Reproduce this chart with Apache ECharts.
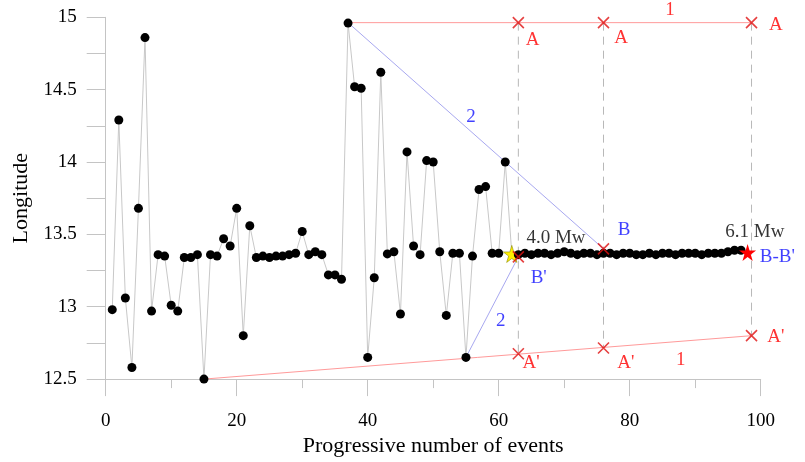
<!DOCTYPE html>
<html><head><meta charset="utf-8">
<script src="https://cdn.jsdelivr.net/npm/echarts@6/dist/echarts.min.js"></script>
<style>html,body{margin:0;padding:0;background:#fff}#c{width:805px;height:462px}</style>
</head><body><div id="c"></div>
<script>
// Longitude of events 1..98 (index+1 = progressive number)
const longitude = [
 12.98,14.29,13.06,12.58,13.68,14.86,12.97,13.36,13.35,13.01,
 12.97,13.34,13.34,13.36,12.50,13.36,13.35,13.47,13.42,13.68,
 12.80,13.56,13.34,13.35,13.34,13.35,13.35,13.36,13.37,13.52,
 13.36,13.38,13.36,13.22,13.22,13.19,14.96,14.52,14.51,12.65,
 13.20,14.62,13.365,13.38,12.95,14.07,13.42,13.36,14.01,14.00,
 13.38,12.94,13.37,13.37,12.65,13.35,13.81,13.83,13.37,13.37,
 14.00,13.365,13.36,13.37,13.36,13.37,13.37,13.36,13.37,13.38,
 13.37,13.36,13.37,13.37,13.36,13.37,13.37,13.36,13.37,13.37,
 13.36,13.36,13.37,13.36,13.37,13.37,13.36,13.37,13.37,13.37,
 13.36,13.37,13.37,13.37,13.38,13.39,13.39,13.375
];
const yellowStarEvent = 62;   // 4.0 Mw
const redStarEvent = 98;      // 6.1 Mw

// annotation geometry (data units)
const lineA  = [[37,14.963],[98.6,14.963]];
const lineA2 = [[15,12.50],[98.6,12.80]];
const lineB  = [[37,14.963],[76,13.40]];
const lineB2 = [[55,12.65],[63,13.345]];
const dashX  = [63,76,98.6];
const crossTop = [[63,14.963],[76,14.963],[98.6,14.963]];
const crossBot = [[63,12.675],[76,12.715],[98.6,12.80]];
const crossB   = [[76,13.40],[63,13.345]];
const redTexts = [[65.18,14.844,'A'],[78.7,14.86,'A'],[102.3,14.947,'A'],
                  [64.94,12.612,"A'"],[79.42,12.612,"A'"],[102.3,12.789,"A'"],
                  [86.17,15.05,'1'],[87.8,12.635,'1']];
const blueTexts = [[79.16,13.527,'B'],[66.11,13.20,"B'"],[102.53,13.345,"B-B'"],
                   [55.79,14.313,'2'],[60.3,12.902,'2']];
const blackTexts = [[68.75,13.475,'4.0 Mw'],[99.1,13.516,'6.1 Mw']];

const xTicks = {min:0,max:100,interval:20};
const yTicks = {min:12.5,max:15,interval:0.5};

const FONT = 'Liberation Serif';
const starPath = 'path://M50,0L61,35L98,35L68,57L79,91L50,70L21,91L32,57L2,35L39,35Z';
const eventData = longitude.map((v,i)=>{
  const n=i+1;
  if(n===yellowStarEvent) return {value:[n,v],symbol:starPath,symbolSize:17,itemStyle:{color:'#ffee00',borderColor:'#8a8a00',borderWidth:0.6}};
  if(n===redStarEvent) return {value:[n,v],symbol:starPath,symbolSize:17,itemStyle:{color:'#ff0000'}};
  return [n,v];
});
const crossPath='path://M0,0L10,10M10,0L0,10';
function lineSeries(d,color,dash){return {type:'line',data:d,symbol:'none',silent:true,clip:false,lineStyle:{color:color,width:1,type:dash||'solid'},z:1};}
function crosses(d){return {type:'scatter',data:d,symbol:crossPath,symbolSize:11,silent:true,clip:false,itemStyle:{color:'none',borderColor:'#e01010',borderWidth:1.6},z:5};}
function texts(d,color){return {type:'scatter',data:d,symbolSize:0,silent:true,clip:false,z:6,
  label:{show:true,position:'inside',formatter:p=>p.data[2],color:color,fontFamily:FONT,fontSize:19}};}
const tickRich = {t:{fontFamily:FONT,fontSize:19,color:'#000'}};

const chart = echarts.init(document.getElementById('c'),null,{renderer:'canvas'});
chart.setOption({
  animation:false,
  backgroundColor:'#fff',
  textStyle:{fontFamily:FONT},
  grid:{left:105.7,right:44.3,top:17.3,bottom:79.5},
  xAxis:{type:'value',min:xTicks.min,max:xTicks.max,interval:xTicks.interval,
    name:'Progressive number of events',nameLocation:'middle',nameGap:46,
    nameTextStyle:{fontFamily:FONT,fontSize:22,color:'#000'},
    axisLine:{onZero:false,lineStyle:{color:'#c4c4c4',width:1}},
    axisTick:{show:true,length:17,lineStyle:{color:'#c4c4c4'}},
    minorTick:{show:true,splitNumber:2,length:9,lineStyle:{color:'#c4c4c4'}},
    splitLine:{show:false},
    axisLabel:{fontFamily:FONT,fontSize:19,color:'#000',margin:32,formatter:'{t|{value}}',rich:tickRich}},
  yAxis:{type:'value',min:yTicks.min,max:yTicks.max,interval:yTicks.interval,
    name:'Longitude',nameLocation:'middle',nameGap:68,
    nameTextStyle:{fontFamily:FONT,fontSize:22,color:'#000'},
    axisLine:{show:true,onZero:false,lineStyle:{color:'#c4c4c4',width:1}},
    axisTick:{show:true,length:19,lineStyle:{color:'#c4c4c4'}},
    minorTick:{show:true,splitNumber:2,length:19,lineStyle:{color:'#c4c4c4'}},
    splitLine:{show:false},
    axisLabel:{fontFamily:FONT,fontSize:19,color:'#000',margin:29,formatter:'{t|{value}}',rich:tickRich}},
  series:[
    ...dashX.map((x,k)=>lineSeries([[x,14.963],[x,crossBot[k][1]]],'#b8b8b8',[8,6])),
    lineSeries(lineA,'#ff9a9a'),
    lineSeries(lineA2,'#ff9a9a'),
    lineSeries(lineB,'#a8a8f0'),
    lineSeries(lineB2,'#a8a8f0'),
    {type:'line',data:eventData,symbol:'circle',symbolSize:9,showAllSymbol:true,silent:true,
      lineStyle:{color:'#c8c8c8',width:1},itemStyle:{color:'#000'},z:3},
    crosses(crossTop),crosses(crossBot),crosses(crossB),
    texts(redTexts,'#ff0000'),texts(blueTexts,'#1010ff'),texts(blackTexts,'#000')
  ]
});
</script></body></html>
